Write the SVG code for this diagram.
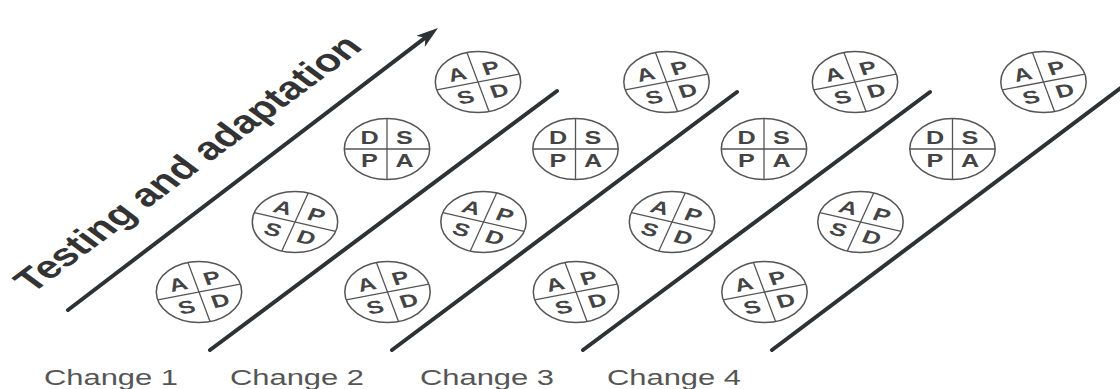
<svg xmlns="http://www.w3.org/2000/svg" width="1120" height="389" viewBox="0 0 1120 389">
<style>
.ring{fill:#fff;stroke:#555;stroke-width:1.5;vector-effect:non-scaling-stroke}
.dv{stroke:#555;stroke-width:1.3;vector-effect:non-scaling-stroke}
.let{font-family:"Liberation Sans",Arial,sans-serif;font-size:18px;font-weight:bold;fill:#444;text-anchor:middle}
.ln{stroke:#2d3236;stroke-width:4;stroke-linecap:round;fill:none}
.lbl{font-family:"Liberation Sans",Arial,sans-serif;font-size:22px;fill:#555}
.ttl{font-family:"Liberation Sans",Arial,sans-serif;font-size:32px;font-weight:bold;fill:#333}
</style>
<defs>
<marker id="ah" markerUnits="userSpaceOnUse" markerWidth="24" markerHeight="16" refX="6" refY="7" orient="auto">
<path d="M0,0 L22,7 L0,14 L6,7 z" fill="#2d3236"/>
</marker>
</defs>
<rect width="1120" height="389" fill="#fff"/>
<g id="connectors">
<line class="ln" x1="68" y1="310" x2="425.3" y2="37.7" marker-end="url(#ah)"/>
<line class="ln" x1="210" y1="350" x2="557" y2="91"/>
<line class="ln" x1="392" y1="350" x2="737" y2="92"/>
<line class="ln" x1="583" y1="350" x2="930" y2="92"/>
<line class="ln" x1="772" y1="350" x2="1122" y2="87"/>
</g>
<g id="title" transform="translate(32,294) scale(1.35,1) rotate(-45)"><text class="ttl" x="0" y="0">Testing and adaptation</text></g>
<g id="labels">
<text class="lbl" x="44" y="385" textLength="134" lengthAdjust="spacingAndGlyphs">Change 1</text>
<text class="lbl" x="230" y="385" textLength="134" lengthAdjust="spacingAndGlyphs">Change 2</text>
<text class="lbl" x="420" y="385" textLength="134" lengthAdjust="spacingAndGlyphs">Change 3</text>
<text class="lbl" x="607" y="385" textLength="134" lengthAdjust="spacingAndGlyphs">Change 4</text>
</g>
<!-- band 1 -->
<g id="c1-bottom" transform="translate(199,292) scale(1.4,1)"><circle class="ring" r="30.5"/><g transform="rotate(-15)"><line class="dv" x1="0" y1="-30.5" x2="0" y2="30.5"/><line class="dv" x1="-30.5" y1="0" x2="30.5" y2="0"/><text class="let" x="-12.5" y="-5">A</text><text class="let" x="12.5" y="-5">P</text><text class="let" x="-12.5" y="18.5">S</text><text class="let" x="12.5" y="18.5">D</text></g></g>
<g id="c1-tilted" transform="translate(295,222) scale(1.4,1)"><circle class="ring" r="30.5"/><g transform="rotate(18)"><line class="dv" x1="0" y1="-30.5" x2="0" y2="30.5"/><line class="dv" x1="-30.5" y1="0" x2="30.5" y2="0"/><text class="let" x="-12.5" y="-5">A</text><text class="let" x="12.5" y="-5">P</text><text class="let" x="-12.5" y="18.5">S</text><text class="let" x="12.5" y="18.5">D</text></g></g>
<g id="c1-dspa" transform="translate(387,149) scale(1.4,1)"><circle class="ring" r="30.5"/><g><line class="dv" x1="0" y1="-30.5" x2="0" y2="30.5"/><line class="dv" x1="-30.5" y1="0" x2="30.5" y2="0"/><text class="let" x="-12.5" y="-5">D</text><text class="let" x="12.5" y="-5">S</text><text class="let" x="-12.5" y="18.5">P</text><text class="let" x="12.5" y="18.5">A</text></g></g>
<g id="c1-top" transform="translate(478,82) scale(1.4,1)"><circle class="ring" r="30.5"/><g transform="rotate(-15)"><line class="dv" x1="0" y1="-30.5" x2="0" y2="30.5"/><line class="dv" x1="-30.5" y1="0" x2="30.5" y2="0"/><text class="let" x="-12.5" y="-5">A</text><text class="let" x="12.5" y="-5">P</text><text class="let" x="-12.5" y="18.5">S</text><text class="let" x="12.5" y="18.5">D</text></g></g>
<!-- band 2 -->
<g id="c2-bottom" transform="translate(387.5,292) scale(1.4,1)"><circle class="ring" r="30.5"/><g transform="rotate(-15)"><line class="dv" x1="0" y1="-30.5" x2="0" y2="30.5"/><line class="dv" x1="-30.5" y1="0" x2="30.5" y2="0"/><text class="let" x="-12.5" y="-5">A</text><text class="let" x="12.5" y="-5">P</text><text class="let" x="-12.5" y="18.5">S</text><text class="let" x="12.5" y="18.5">D</text></g></g>
<g id="c2-tilted" transform="translate(483.5,222) scale(1.4,1)"><circle class="ring" r="30.5"/><g transform="rotate(18)"><line class="dv" x1="0" y1="-30.5" x2="0" y2="30.5"/><line class="dv" x1="-30.5" y1="0" x2="30.5" y2="0"/><text class="let" x="-12.5" y="-5">A</text><text class="let" x="12.5" y="-5">P</text><text class="let" x="-12.5" y="18.5">S</text><text class="let" x="12.5" y="18.5">D</text></g></g>
<g id="c2-dspa" transform="translate(575.5,149) scale(1.4,1)"><circle class="ring" r="30.5"/><g><line class="dv" x1="0" y1="-30.5" x2="0" y2="30.5"/><line class="dv" x1="-30.5" y1="0" x2="30.5" y2="0"/><text class="let" x="-12.5" y="-5">D</text><text class="let" x="12.5" y="-5">S</text><text class="let" x="-12.5" y="18.5">P</text><text class="let" x="12.5" y="18.5">A</text></g></g>
<g id="c2-top" transform="translate(666.5,82) scale(1.4,1)"><circle class="ring" r="30.5"/><g transform="rotate(-15)"><line class="dv" x1="0" y1="-30.5" x2="0" y2="30.5"/><line class="dv" x1="-30.5" y1="0" x2="30.5" y2="0"/><text class="let" x="-12.5" y="-5">A</text><text class="let" x="12.5" y="-5">P</text><text class="let" x="-12.5" y="18.5">S</text><text class="let" x="12.5" y="18.5">D</text></g></g>
<!-- band 3 -->
<g id="c3-bottom" transform="translate(576,292) scale(1.4,1)"><circle class="ring" r="30.5"/><g transform="rotate(-15)"><line class="dv" x1="0" y1="-30.5" x2="0" y2="30.5"/><line class="dv" x1="-30.5" y1="0" x2="30.5" y2="0"/><text class="let" x="-12.5" y="-5">A</text><text class="let" x="12.5" y="-5">P</text><text class="let" x="-12.5" y="18.5">S</text><text class="let" x="12.5" y="18.5">D</text></g></g>
<g id="c3-tilted" transform="translate(672,222) scale(1.4,1)"><circle class="ring" r="30.5"/><g transform="rotate(18)"><line class="dv" x1="0" y1="-30.5" x2="0" y2="30.5"/><line class="dv" x1="-30.5" y1="0" x2="30.5" y2="0"/><text class="let" x="-12.5" y="-5">A</text><text class="let" x="12.5" y="-5">P</text><text class="let" x="-12.5" y="18.5">S</text><text class="let" x="12.5" y="18.5">D</text></g></g>
<g id="c3-dspa" transform="translate(764,149) scale(1.4,1)"><circle class="ring" r="30.5"/><g><line class="dv" x1="0" y1="-30.5" x2="0" y2="30.5"/><line class="dv" x1="-30.5" y1="0" x2="30.5" y2="0"/><text class="let" x="-12.5" y="-5">D</text><text class="let" x="12.5" y="-5">S</text><text class="let" x="-12.5" y="18.5">P</text><text class="let" x="12.5" y="18.5">A</text></g></g>
<g id="c3-top" transform="translate(855,82) scale(1.4,1)"><circle class="ring" r="30.5"/><g transform="rotate(-15)"><line class="dv" x1="0" y1="-30.5" x2="0" y2="30.5"/><line class="dv" x1="-30.5" y1="0" x2="30.5" y2="0"/><text class="let" x="-12.5" y="-5">A</text><text class="let" x="12.5" y="-5">P</text><text class="let" x="-12.5" y="18.5">S</text><text class="let" x="12.5" y="18.5">D</text></g></g>
<!-- band 4 -->
<g id="c4-bottom" transform="translate(764.5,292) scale(1.4,1)"><circle class="ring" r="30.5"/><g transform="rotate(-15)"><line class="dv" x1="0" y1="-30.5" x2="0" y2="30.5"/><line class="dv" x1="-30.5" y1="0" x2="30.5" y2="0"/><text class="let" x="-12.5" y="-5">A</text><text class="let" x="12.5" y="-5">P</text><text class="let" x="-12.5" y="18.5">S</text><text class="let" x="12.5" y="18.5">D</text></g></g>
<g id="c4-tilted" transform="translate(860.5,222) scale(1.4,1)"><circle class="ring" r="30.5"/><g transform="rotate(18)"><line class="dv" x1="0" y1="-30.5" x2="0" y2="30.5"/><line class="dv" x1="-30.5" y1="0" x2="30.5" y2="0"/><text class="let" x="-12.5" y="-5">A</text><text class="let" x="12.5" y="-5">P</text><text class="let" x="-12.5" y="18.5">S</text><text class="let" x="12.5" y="18.5">D</text></g></g>
<g id="c4-dspa" transform="translate(952.5,149) scale(1.4,1)"><circle class="ring" r="30.5"/><g><line class="dv" x1="0" y1="-30.5" x2="0" y2="30.5"/><line class="dv" x1="-30.5" y1="0" x2="30.5" y2="0"/><text class="let" x="-12.5" y="-5">D</text><text class="let" x="12.5" y="-5">S</text><text class="let" x="-12.5" y="18.5">P</text><text class="let" x="12.5" y="18.5">A</text></g></g>
<g id="c4-top" transform="translate(1043.5,82) scale(1.4,1)"><circle class="ring" r="30.5"/><g transform="rotate(-15)"><line class="dv" x1="0" y1="-30.5" x2="0" y2="30.5"/><line class="dv" x1="-30.5" y1="0" x2="30.5" y2="0"/><text class="let" x="-12.5" y="-5">A</text><text class="let" x="12.5" y="-5">P</text><text class="let" x="-12.5" y="18.5">S</text><text class="let" x="12.5" y="18.5">D</text></g></g>
</svg>
